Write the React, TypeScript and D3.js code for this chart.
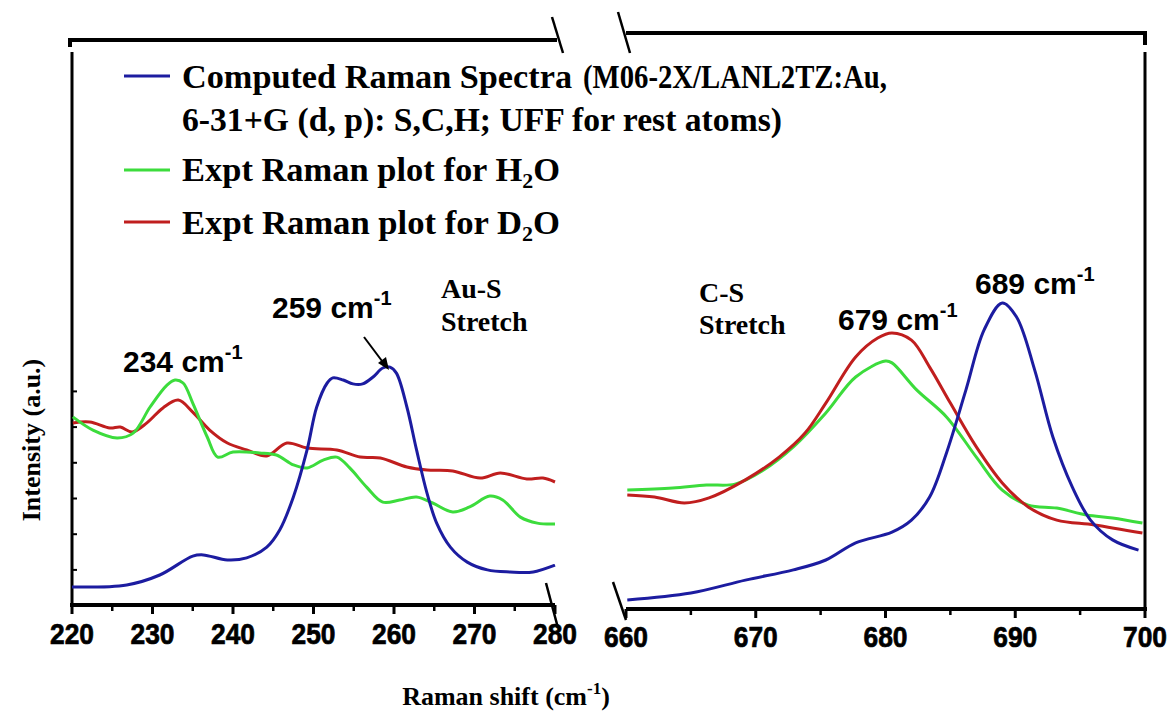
import React from 'react';
import * as d3 from 'd3';

// ---- Data (intensity in arbitrary units) ----
const blueLeftX = [220, 226.8, 230.9, 235.0, 236.3, 239.3, 241.7, 244.2, 245.8, 247.5, 249.2, 250.4, 251.7, 252.4, 253.7, 254.9, 256.1, 257.4, 258.6, 259.5, 260.3, 261.6, 262.8, 264.1, 265.3, 267.0, 269.1, 271.6, 274.4, 277.3, 280];
const blueLeftY = [6.0, 6.7, 10, 16.3, 16.7, 15, 15.7, 19.3, 25, 36, 51.7, 66, 74, 75.7, 75, 73.7, 73.7, 76, 79, 79.3, 77.3, 66, 51.7, 37.3, 27.3, 19.3, 14.3, 11.7, 11, 11, 13.3];

const greenLeftX = [220.1, 222.6, 225.6, 227.6, 229.7, 231.8, 232.8, 233.8, 235.0, 236.8, 238.1, 240.0, 243.3, 245.4, 247.5, 249.2, 251.2, 252.9, 254.5, 256.6, 258.6, 260.7, 262.8, 264.8, 267.3, 269.4, 271.9, 273.5, 275.7, 277.8, 280];
const greenLeftY = [62.7, 58.3, 55.7, 57.3, 66, 73.3, 75, 74, 67.3, 56, 49.3, 51, 50.7, 50, 46.7, 45.7, 48.3, 49.3, 45.7, 39.3, 34.3, 35, 36, 34, 31, 32.7, 36.3, 35, 29.3, 27.3, 27];

const redLeftX = [220.1, 222.2, 224.7, 226.0, 227.5, 229.3, 231.3, 233.2, 235.0, 237.1, 239.3, 241.7, 244.2, 246.7, 249.2, 252.9, 255.8, 258.3, 261.6, 264.1, 267.3, 270.7, 273.2, 276.5, 278.5, 280];
const redLeftY = [60.7, 61, 59, 59.3, 57.7, 60.7, 65.7, 68.3, 64.3, 58.3, 54, 51.7, 49.7, 54, 52.3, 51.7, 49.3, 49, 46, 45, 44.7, 42.3, 44, 42, 42.3, 41];

const blueRightX = [660.1, 665.0, 669.2, 672.9, 675.4, 677.7, 680.5, 682.0, 683.4, 684.7, 686.2, 687.6, 689.0, 690.1, 691.5, 692.9, 694.4, 695.8, 697.5, 699.5];
const blueRightY = [1.7, 4, 8.3, 11.7, 15, 20.7, 24.3, 28.3, 36, 50.7, 71.7, 91.7, 100.7, 96, 78.3, 56, 39.3, 28.3, 21.7, 18.3];

const greenRightX = [660.1, 663.6, 666.2, 668.4, 670.6, 672.9, 675.4, 677.7, 680.0, 680.5, 682.4, 684.7, 687.0, 689.0, 691.0, 693.2, 695.5, 697.5, 699.8];
const greenRightY = [38.3, 39, 40, 40.3, 45, 52.7, 64, 76, 81.3, 80.7, 71.7, 62.7, 49.3, 38.3, 33.3, 32.3, 30, 29, 27.3];

const redRightX = [660.1, 662.2, 664.5, 666.4, 669.2, 671.8, 673.8, 675.4, 677.7, 679.4, 680.5, 682.0, 683.4, 685.0, 687.0, 689.0, 691.0, 693.2, 696.1, 699.8];
const redRightY = [36.7, 36, 34, 35.7, 41.7, 49.3, 57.3, 67.3, 82.7, 89, 90.7, 88.3, 79.3, 67.3, 52.7, 40.7, 32.7, 28.3, 26.7, 24];

const leftTicks = [220, 230, 240, 250, 260, 270, 280];
const rightTicks = [660, 670, 680, 690, 700];
const yMinorTicks = [11.7, 23.6, 35.5, 47.4, 59.3, 71.2];

const BLUE = '#1c1ca0';
const GREEN = '#3cdc3c';
const RED = '#c01e1e';
const SERIF = '"Liberation Serif", "Times New Roman", serif';
const SANS = '"Liberation Sans", Arial, sans-serif';

const xL = d3.scaleLinear().domain([220, 280]).range([72, 555]);
const xR = d3.scaleLinear().domain([660, 700]).range([626, 1145]);
const y = d3.scaleLinear().domain([0, 100]).range([605, 305]);

function makePath(xs: number[], ys: number[], xs_: d3.ScaleLinear<number, number>) {
  const pts = xs.map((v, i) => [v, ys[i]] as [number, number]);
  const line = d3
    .line<[number, number]>()
    .x((d) => xs_(d[0]))
    .y((d) => y(d[1]))
    .curve(d3.curveCatmullRom.alpha(0.5));
  return line(pts) || '';
}

export default function App() {
  const minorL = d3.range(225, 280, 10);
  const minorR = d3.range(665, 700, 10);
  const lw = 3;
  return (
    <svg
      width={1174}
      height={711}
      style={{ position: 'absolute', left: 0, top: 0, background: '#fff' }}
    >
      <rect width={1174} height={711} fill="#fff" />
      {/* Frame: left panel */}
      <path d="M70,47 L70,40 L557,40" fill="none" stroke="#000" strokeWidth={4} />
      <line x1={72} y1={52} x2={72} y2={607} stroke="#000" strokeWidth={3} />
      <line x1={70} y1={605} x2={555} y2={605} stroke="#000" strokeWidth={4} />
      <line x1={552} y1={17} x2={563} y2={53} stroke="#000" strokeWidth={2.5} />
      <line x1={546} y1={583} x2={558} y2={628} stroke="#000" strokeWidth={2.5} />
      {/* Frame: right panel */}
      <path d="M626,33 L1145,33 L1145,45" fill="none" stroke="#000" strokeWidth={4} />
      <line x1={1145} y1={52} x2={1145} y2={611} stroke="#000" strokeWidth={3} />
      <line x1={626} y1={609} x2={1147} y2={609} stroke="#000" strokeWidth={4} />
      <line x1={618} y1={12} x2={630} y2={53} stroke="#000" strokeWidth={2.5} />
      <line x1={613} y1={582} x2={626} y2={620} stroke="#000" strokeWidth={2.5} />

      {/* Ticks */}
      {leftTicks.map((t) => (
        <line key={'lt' + t} x1={xL(t)} x2={xL(t)} y1={605} y2={614} stroke="#000" strokeWidth={3} />
      ))}
      {minorL.map((t) => (
        <line key={'lm' + t} x1={xL(t)} x2={xL(t)} y1={605} y2={611} stroke="#000" strokeWidth={2.5} />
      ))}
      {rightTicks.map((t) => (
        <line key={'rt' + t} x1={xR(t)} x2={xR(t)} y1={609} y2={618} stroke="#000" strokeWidth={3} />
      ))}
      {minorR.map((t) => (
        <line key={'rm' + t} x1={xR(t)} x2={xR(t)} y1={609} y2={615} stroke="#000" strokeWidth={2.5} />
      ))}
      {yMinorTicks.map((t) => (
        <line key={'ym' + t} x1={72} x2={77} y1={y(t)} y2={y(t)} stroke="#000" strokeWidth={2} />
      ))}

      {/* Tick labels */}
      <g fontFamily={SANS} fontWeight="bold" fontSize={30} stroke="#000" strokeWidth={0.7}>
        {leftTicks.map((t) => (
          <text
            key={'ll' + t}
            x={xL(t)}
            y={644}
            textAnchor="middle"
            textLength={44}
            lengthAdjust="spacingAndGlyphs"
          >
            {t}
          </text>
        ))}
        {rightTicks.map((t) => (
          <text
            key={'rl' + t}
            x={xR(t)}
            y={647}
            textAnchor="middle"
            textLength={44}
            lengthAdjust="spacingAndGlyphs"
          >
            {t}
          </text>
        ))}
      </g>

      {/* Data lines */}
      <path d={makePath(redLeftX, redLeftY, xL)} fill="none" stroke={RED} strokeWidth={lw} />
      <path d={makePath(greenLeftX, greenLeftY, xL)} fill="none" stroke={GREEN} strokeWidth={lw} />
      <path d={makePath(blueLeftX, blueLeftY, xL)} fill="none" stroke={BLUE} strokeWidth={lw} />
      <path d={makePath(greenRightX, greenRightY, xR)} fill="none" stroke={GREEN} strokeWidth={lw} />
      <path d={makePath(redRightX, redRightY, xR)} fill="none" stroke={RED} strokeWidth={lw} />
      <path d={makePath(blueRightX, blueRightY, xR)} fill="none" stroke={BLUE} strokeWidth={lw} />

      {/* Legend */}
      <line x1={124} x2={170} y1={76} y2={76} stroke={BLUE} strokeWidth={3} />
      <line x1={124} x2={170} y1={170} y2={170} stroke={GREEN} strokeWidth={3} />
      <line x1={124} x2={170} y1={222} y2={222} stroke={RED} strokeWidth={3} />
      <g fontFamily={SERIF} fontWeight="bold" fontSize={33}>
        <text x={182} y={88} textLength={390} lengthAdjust="spacingAndGlyphs">
          Computed Raman Spectra
        </text>
        <text x={583} y={88} textLength={304} lengthAdjust="spacingAndGlyphs">
          (M06-2X/LANL2TZ:Au,
        </text>
        <text x={182} y={131} textLength={600} lengthAdjust="spacingAndGlyphs">
          6-31+G (d, p): S,C,H; UFF for rest atoms)
        </text>
        <text x={182} y={181} textLength={378} lengthAdjust="spacingAndGlyphs">
          Expt Raman plot for H<tspan fontSize={21} dy={7}>2</tspan>
          <tspan dy={-7}>O</tspan>
        </text>
        <text x={182} y={234} textLength={378} lengthAdjust="spacingAndGlyphs">
          Expt Raman plot for D<tspan fontSize={21} dy={7}>2</tspan>
          <tspan dy={-7}>O</tspan>
        </text>
      </g>

      {/* Annotations */}
      <g fontFamily={SANS} fontWeight="bold" fontSize={30}>
        <text x={123} y={372}>
          234 cm<tspan fontSize={20} dy={-13}>-1</tspan>
        </text>
        <text x={272} y={318}>
          259 cm<tspan fontSize={20} dy={-13}>-1</tspan>
        </text>
        <text x={838} y={330}>
          679 cm<tspan fontSize={20} dy={-13}>-1</tspan>
        </text>
        <text x={975} y={294}>
          689 cm<tspan fontSize={20} dy={-13}>-1</tspan>
        </text>
      </g>
      <g fontFamily={SERIF} fontWeight="bold" fontSize={28}>
        <text x={441} y={298}>Au-S</text>
        <text x={441} y={331}>Stretch</text>
        <text x={699} y={302}>C-S</text>
        <text x={699} y={334}>Stretch</text>
      </g>
      {/* Arrow */}
      <line x1={364} y1={337} x2={385} y2={365} stroke="#000" strokeWidth={2} />
      <path d="M389,370 L378,363 L386,357 Z" fill="#000" />

      {/* Axis titles */}
      <text
        x={506}
        y={705}
        textAnchor="middle"
        fontFamily={SERIF}
        fontWeight="bold"
        fontSize={26}
      >
        Raman shift (cm<tspan fontSize={17} dy={-11}>-1</tspan>
        <tspan dy={11}>)</tspan>
      </text>
      <text
        transform="translate(40,440) rotate(-90)"
        textAnchor="middle"
        fontFamily={SERIF}
        fontWeight="bold"
        fontSize={26}
      >
        Intensity (a.u.)
      </text>
    </svg>
  );
}
